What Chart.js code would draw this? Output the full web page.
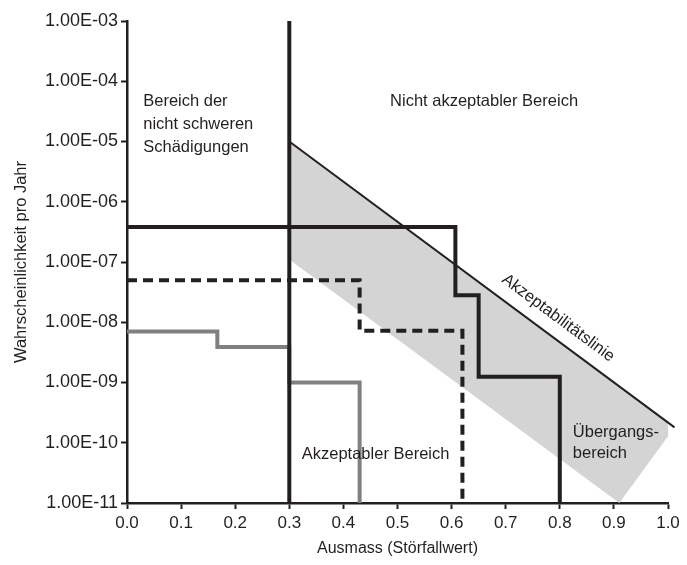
<!DOCTYPE html>
<html>
<head>
<meta charset="utf-8">
<script src="https://cdn.jsdelivr.net/npm/chart.js@4/dist/chart.umd.min.js"></script>
<style>
  html, body { margin: 0; padding: 0; background: #fff; }
  #wrap { width: 687px; height: 565px; }
</style>
</head>
<body>
<div id="wrap"><canvas id="riskChart"></canvas></div>
<script>
const FONT = '"Liberation Sans Narrow", "Liberation Sans", Arial, sans-serif';
const INK = '#231f20';

// y axis: log scale, labelled decades only
const yTickValues = [1e-11, 1e-10, 1e-9, 1e-8, 1e-7, 1e-6, 1e-5, 1e-4, 1e-3];
const yTickLabels = ['1.00E-11', '1.00E-10', '1.00E-09', '1.00E-08', '1.00E-07',
                     '1.00E-06', '1.00E-05', '1.00E-04', '1.00E-03'];
const xTickLabels = ['0.0', '0.1', '0.2', '0.3', '0.4', '0.5', '0.6', '0.7', '0.8', '0.9', '1.0'];

// acceptability line
const acceptX = [0.3, 1.012];
const acceptY = [1e-5, 1.8e-10];

// transition band (polygon)
const bandX = [0.3, 1.012, 0.91, 0.3, 0.3];
const bandY = [1e-5, 1.8e-10, 1e-11, 1.1e-7, 1e-5];

// boundary of "nicht schwere Schaedigungen"
const limitX = [0.3, 0.3];
const limitY = [1e-11, 1e-3];

// step curves (each point = end of horizontal run, next level)
const solidX = [0, 0.607, 0.65, 0.8];
const solidY = [3.8e-7, 2.8e-8, 1.25e-9, 1e-11];

const dashX = [0, 0.43, 0.62];
const dashY = [5e-8, 7.2e-9, 1e-11];

const grayX = [0, 0.167, 0.3, 0.43];
const grayY = [7e-9, 3.9e-9, 1e-9, 1e-11];

const pts = (xs, ys) => xs.map((x, i) => ({ x: x, y: ys[i] }));

// text labels drawn inside the plot
const textPlugin = {
    id: 'areaTexts',
    afterDatasetsDraw(chart) {
        const ctx = chart.ctx;
        const xs = chart.scales.x, ys = chart.scales.y;
        const px = v => xs.getPixelForValue(v);
        const py = v => ys.getPixelForValue(v);
        ctx.save();
        ctx.fillStyle = INK;
        ctx.font = '16.5px ' + FONT;
        ctx.textBaseline = 'middle';

        ctx.textAlign = 'left';
        let y0 = py(4.7e-5);
        ['Bereich der', 'nicht schweren', 'Schädigungen'].forEach((t, i) => {
            ctx.fillText(t, px(0.03), y0 + i * 23);
        });

        ctx.textAlign = 'center';
        ctx.fillText('Nicht akzeptabler Bereich', px(0.66), py(4.7e-5));

        ctx.textAlign = 'left';
        y0 = py(1.5e-10);
        ctx.fillText('Übergangs-', px(0.824), y0);
        ctx.fillText('bereich', px(0.824), y0 + 21);

        ctx.fillText('Akzeptabler Bereich', px(0.323), py(6.3e-11));

        // rotated label along the acceptability line
        const ang = Math.atan2(py(acceptY[1]) - py(acceptY[0]), px(acceptX[1]) - px(acceptX[0]));
        ctx.translate(px(0.797), py(1.17e-8));
        ctx.rotate(ang);
        ctx.textAlign = 'center';
        ctx.fillText('Akzeptabilitätslinie', 0, 0);
        ctx.restore();
    }
};

new Chart(document.getElementById('riskChart'), {
    type: 'scatter',
    data: {
        datasets: [
            {
                label: 'Übergangsbereich',
                data: pts(bandX, bandY),
                showLine: true,
                fill: 'shape',
                backgroundColor: '#d4d4d4',
                borderWidth: 0,
                pointRadius: 0,
                clip: false,
                order: 10
            },
            {
                label: 'Akzeptabilitätslinie',
                data: pts(acceptX, acceptY),
                showLine: true,
                borderColor: INK,
                borderWidth: 2,
                pointRadius: 0,
                clip: false,
                order: 5
            },
            {
                label: 'Grenze',
                data: pts(limitX, limitY),
                showLine: true,
                borderColor: INK,
                borderWidth: 4,
                pointRadius: 0,
                order: 1
            },
            {
                label: 'Szenario 1',
                data: pts(solidX, solidY),
                showLine: true,
                stepped: 'before',
                borderColor: INK,
                borderWidth: 4,
                pointRadius: 0,
                order: 2
            },
            {
                label: 'Szenario 2',
                data: pts(dashX, dashY),
                showLine: true,
                stepped: 'before',
                borderColor: INK,
                borderWidth: 4,
                borderDash: [10, 6],
                pointRadius: 0,
                order: 3
            },
            {
                label: 'Szenario 3',
                data: pts(grayX, grayY),
                showLine: true,
                stepped: 'before',
                borderColor: '#808080',
                borderWidth: 4,
                pointRadius: 0,
                order: 4
            }
        ]
    },
    options: {
        responsive: true,
        maintainAspectRatio: false,
        animation: false,
        layout: { padding: { top: 21, right: 19, left: 0, bottom: 0 } },
        plugins: {
            legend: { display: false },
            tooltip: { enabled: false }
        },
        scales: {
            x: {
                type: 'linear',
                min: 0,
                max: 1,
                afterFit: s => { s.height = 62; },
                ticks: {
                    stepSize: 0.1,
                    color: INK,
                    font: { family: FONT, size: 17 },
                    padding: 4,
                    callback: (v, i) => xTickLabels[i]
                },
                grid: { drawOnChartArea: false, tickLength: 6, tickColor: INK, tickWidth: 2 },
                border: { color: INK, width: 2.5 },
                title: {
                    display: true,
                    text: 'Ausmass (Störfallwert)',
                    color: INK,
                    font: { family: FONT, size: 16 },
                    padding: { top: 4, bottom: 7 }
                }
            },
            y: {
                type: 'logarithmic',
                min: 1e-11,
                max: 1e-3,
                afterFit: s => { s.width = 127; },
                afterBuildTicks: s => { s.ticks = yTickValues.map(v => ({ value: v, major: true })); },
                ticks: {
                    color: INK,
                    font: { family: FONT, size: 18 },
                    padding: 3,
                    autoSkip: false,
                    callback: (v, i) => yTickLabels[i]
                },
                grid: { drawOnChartArea: false, tickLength: 6, tickColor: INK, tickWidth: 2 },
                border: { color: INK, width: 2.5 },
                title: {
                    display: true,
                    text: 'Wahrscheinlichkeit pro Jahr',
                    color: INK,
                    font: { family: FONT, size: 16.5 },
                    padding: { top: 12, bottom: 0 }
                }
            }
        }
    },
    plugins: [textPlugin]
});
</script>
</body>
</html>
